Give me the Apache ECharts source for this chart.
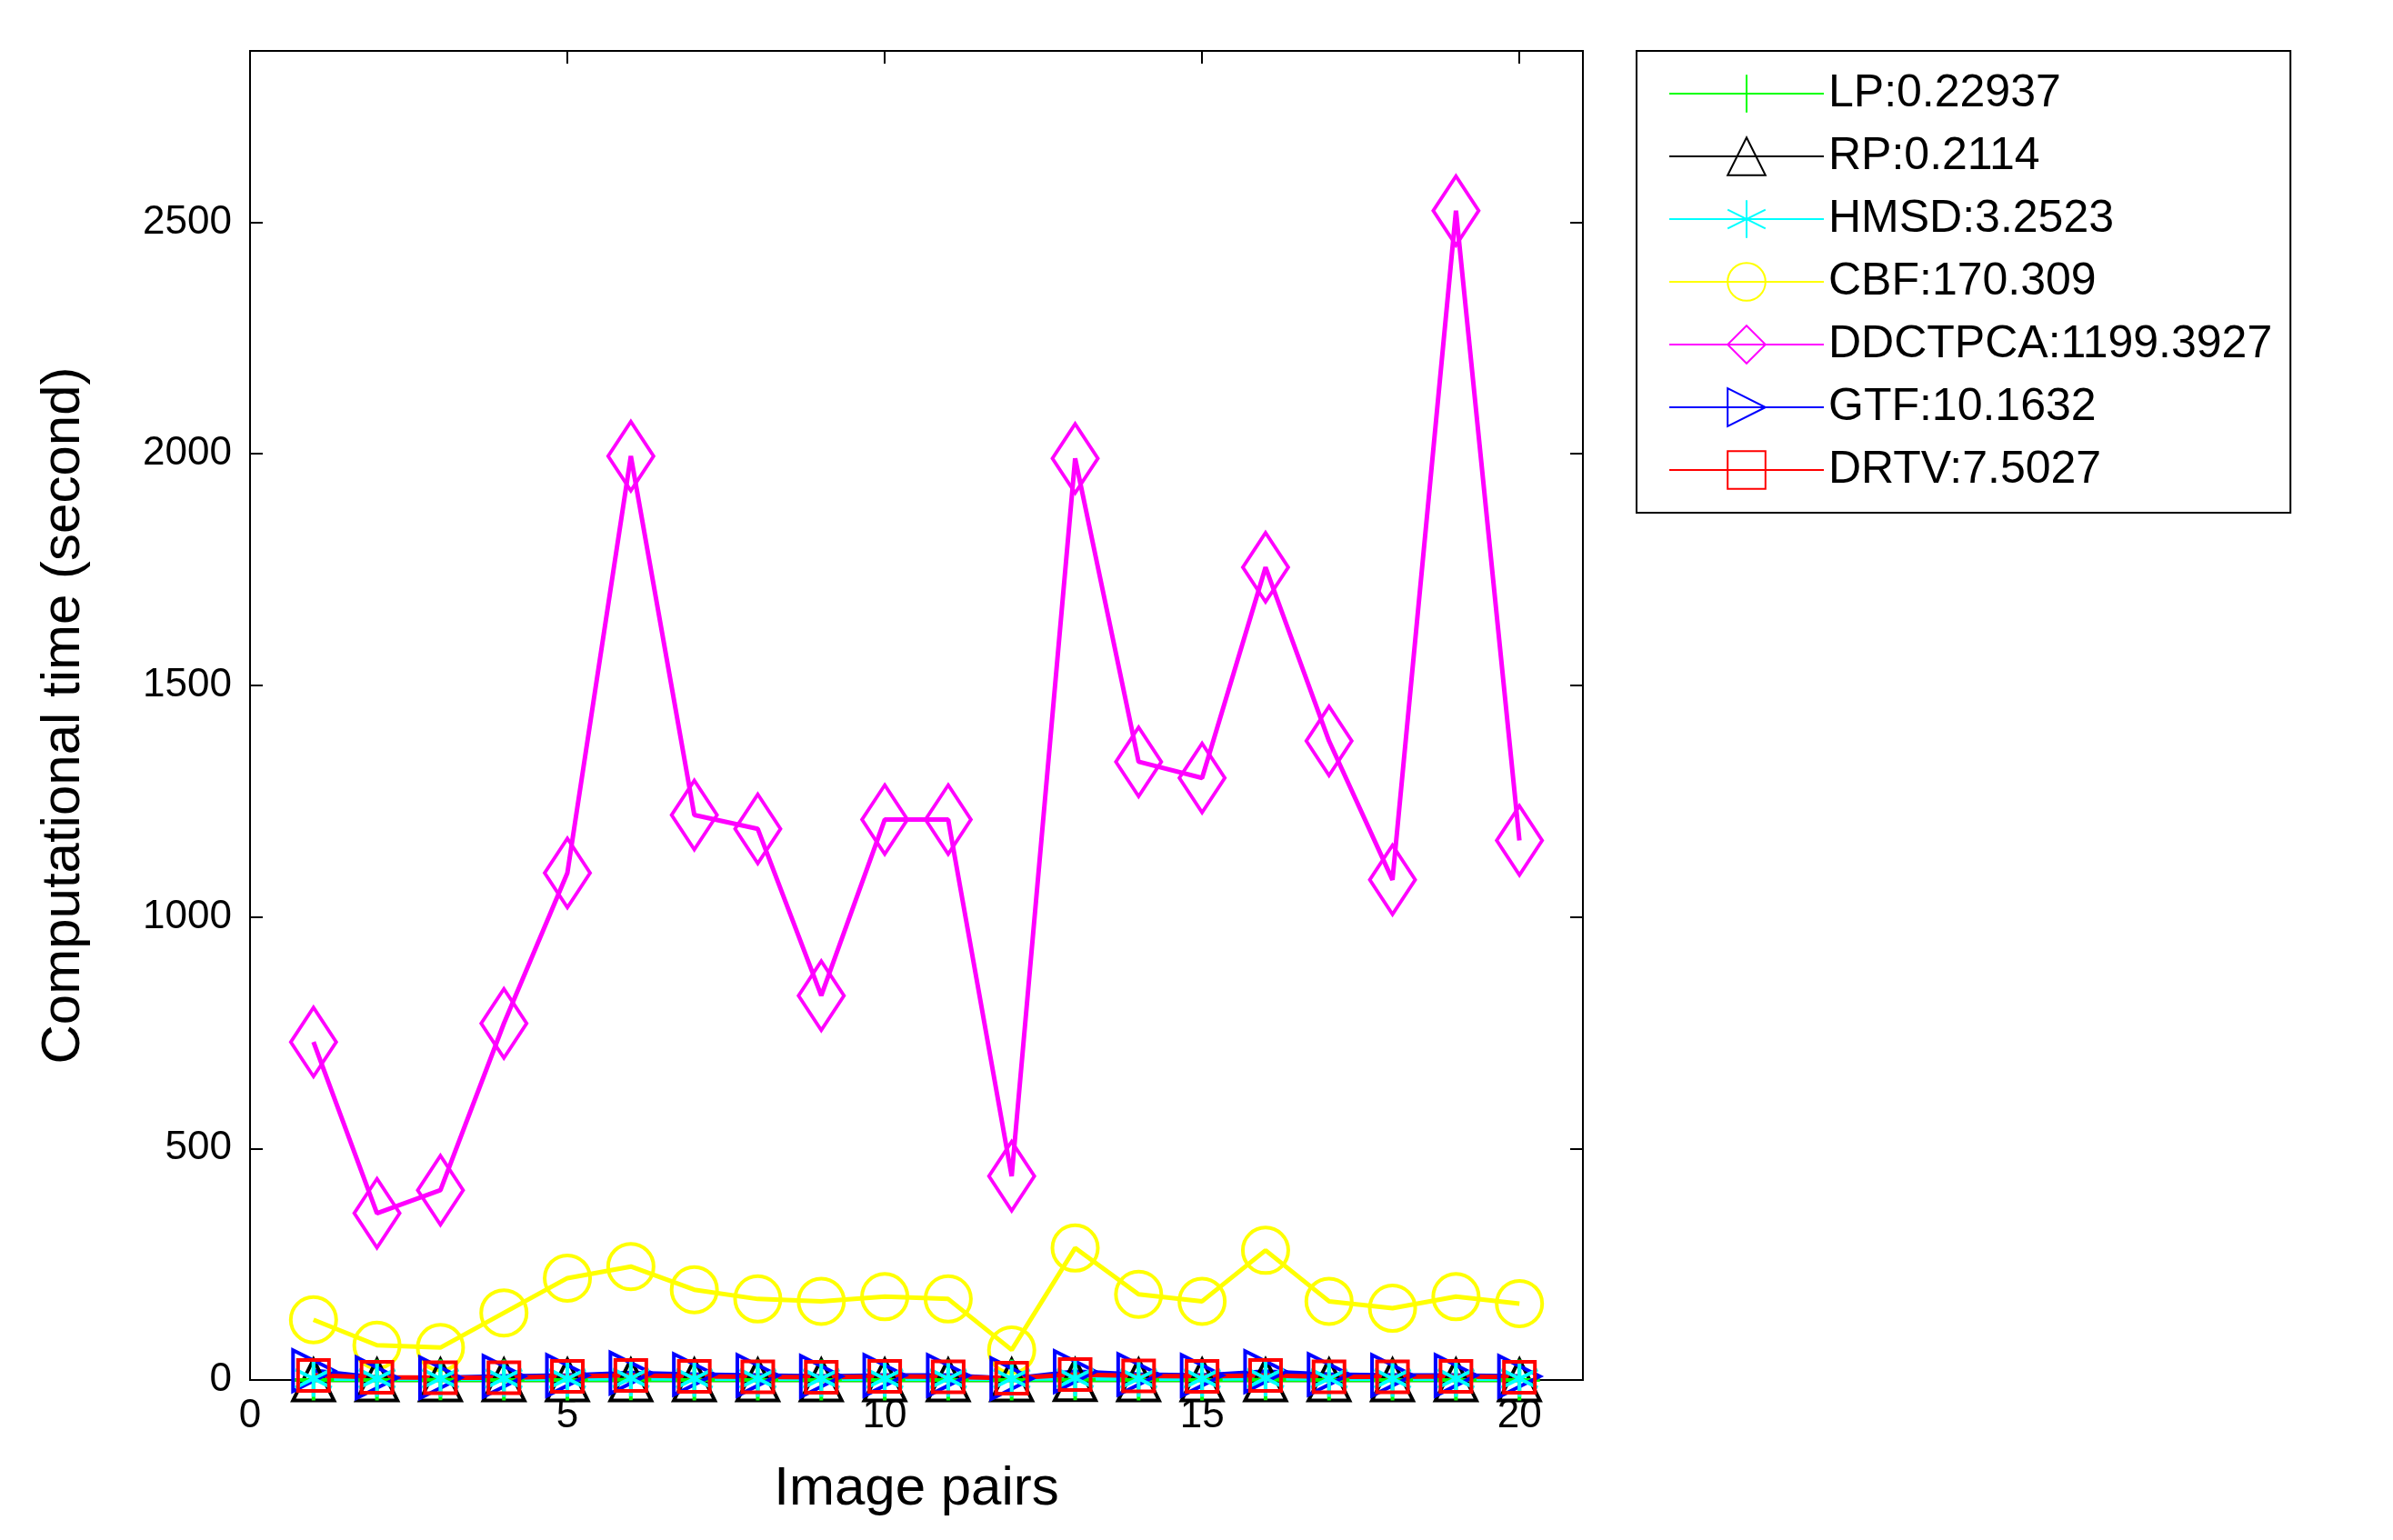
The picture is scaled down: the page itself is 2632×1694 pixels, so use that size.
<!DOCTYPE html><html><head><meta charset="utf-8">
<script src="https://cdn.jsdelivr.net/npm/echarts@6/dist/echarts.min.js"></script>
<style>html,body{margin:0;background:#fff}#c{width:2632px;height:1694px}</style></head><body><div id="c"></div>
<script>
const pairs=[1,2,3,4,5,6,7,8,9,10,11,12,13,14,15,16,17,18,19,20];
const LP=[0.2,0.2,0.3,0.2,0.2,0.3,0.2,0.2,0.2,0.2,0.2,0.2,0.3,0.2,0.2,0.3,0.2,0.2,0.2,0.2];
const RP=[0.2,0.2,0.2,0.2,0.2,0.2,0.2,0.2,0.2,0.2,0.2,0.2,0.3,0.2,0.2,0.2,0.2,0.2,0.2,0.2];
const HMSD=[3,3,3,3,3,4,3,3,3,3,3,3,4,3,3,4,3,3,3,3];
const CBF=[130,75,70,145,220,245,195,175,170,180,175,65,285,185,170,280,170,155,180,165];
const DDCTPCA=[730,360,410,770,1095,1995,1220,1190,830,1210,1210,440,1990,1335,1300,1755,1380,1080,2525,1165];
const GTF=[20,5,5,8,10,15,12,10,8,10,10,3,18,12,10,18,12,10,10,8];
const DRTV=[10,6,5,5,8,10,8,7,6,8,7,4,12,9,8,10,7,7,8,6];
const names=['LP:0.22937','RP:0.2114','HMSD:3.2523','CBF:170.309','DDCTPCA:1199.3927','GTF:10.1632','DRTV:7.5027'];
const c=echarts.init(document.getElementById('c'));
const z=a=>pairs.map((p,i)=>[p,a[i]]);
function S(name,data,color,symbol,size,rot){return{name,type:'line',data:z(data),symbol,symbolSize:size,symbolRotate:rot||0,
 xAxisIndex:0,yAxisIndex:0,
 lineStyle:{color,width:5},itemStyle:{color:'rgba(0,0,0,0)',borderColor:color,borderWidth:4},emphasis:{disabled:true},animation:false};}
const plus='path://M0,-10L0,10M-10,0L10,0';
const star='path://M0,-10L0,10M-8.7,-5L8.7,5M-8.7,5L8.7,-5';
const tick={show:true,inside:true,length:14,lineStyle:{color:'#000',width:2}};
const line={show:true,onZero:false,lineStyle:{color:'#000',width:2}};
c.setOption({
 grid:{left:275,right:891,top:56,bottom:176,show:true,borderColor:'#000',borderWidth:2},
 textStyle:{fontFamily:'Liberation Sans'},
 xAxis:[{type:'value',position:'bottom',min:0,max:21,interval:5,name:'Image pairs',nameLocation:'middle',nameGap:90,
  nameTextStyle:{fontSize:60,color:'#000'},axisLine:line,axisTick:tick,splitLine:{show:false},
  axisLabel:{fontSize:44,color:'#000',showMaxLabel:false,margin:18}},
  {type:'value',position:'top',min:0,max:21,interval:5,axisLine:line,axisTick:tick,axisLabel:{show:false},splitLine:{show:false}}],
 yAxis:[{type:'value',position:'left',min:0,max:2870,interval:500,name:'Computational time (second)',nameLocation:'middle',nameGap:175,
  nameTextStyle:{fontSize:60,color:'#000'},axisLine:line,axisTick:tick,splitLine:{show:false},
  axisLabel:{fontSize:44,color:'#000',showMaxLabel:false,margin:20,formatter:v=>String(v)}},
  {type:'value',position:'right',min:0,max:2870,interval:500,axisLine:line,axisTick:tick,axisLabel:{show:false},splitLine:{show:false}}],
 legend:{orient:'vertical',left:1800,top:56,width:810,itemWidth:170,itemHeight:52,itemGap:19,
  padding:[22,20,22,35],borderColor:'#000',borderWidth:2,textStyle:{fontSize:50,color:'#000',fontFamily:'Liberation Sans'},data:names},
 series:[S(names[3],CBF,'#ffff00','circle',50),S(names[4],DDCTPCA,'#ff00ff','diamond',[50,76]),
  S(names[1],RP,'#000000','triangle',45),S(names[0],LP,'#00ff00',plus,45),
  S(names[5],GTF,'#0000ff','triangle',45,-90),S(names[2],HMSD,'#00ffff',star,40),S(names[6],DRTV,'#ff0000','rect',34),
  {type:'line',xAxisIndex:1,yAxisIndex:1,data:[],silent:true}]
});
</script></body></html>
